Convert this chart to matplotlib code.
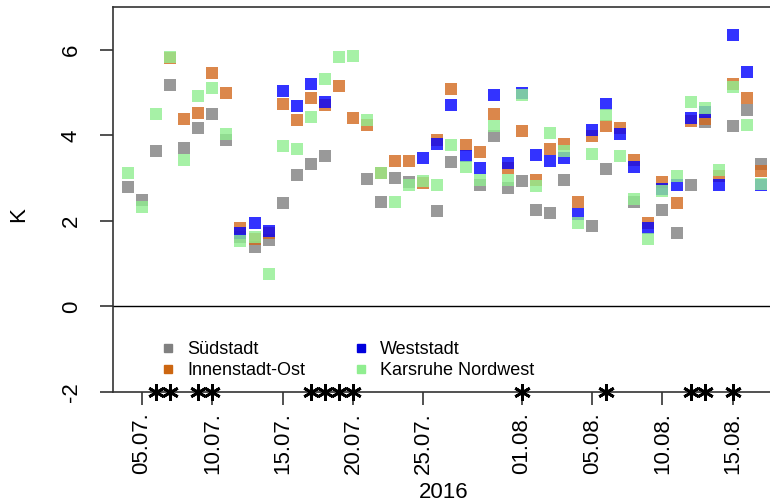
import numpy as np
import matplotlib
matplotlib.use("Agg")
import matplotlib.pyplot as plt
from matplotlib.lines import Line2D

plt.rcParams["font.family"] = ["Liberation Sans", "DejaVu Sans"]

nan = np.nan
# day index (0 = 05.07.2016 on the plotted axis)
day_index = list(range(-1, 45))

suedstadt = [2.80, 2.50, 3.63, 5.17, 3.71, 4.16, 4.51, 3.90, 1.62, 1.38,
             1.56, 2.41, 3.07, 3.32, 3.51, nan, nan, 2.97, 2.43, 3.00,
             2.91, nan, 2.23, 3.38, nan, 2.84, 3.99, 2.77, 2.93, 2.26,
             2.19, 2.95, nan, 1.89, 3.22, nan, 2.45, nan, 2.25, 1.72,
             2.84, 4.31, nan, 4.21, 4.60, 3.33]
innenstadt_ost = [nan, nan, nan, 5.80, 4.39, 4.53, 5.45, 4.98, 1.83, 1.58,
                  1.72, 4.74, 4.36, 4.87, 4.70, 5.15, 4.40, 4.24, 3.12, 3.40,
                  3.41, 2.88, 3.89, 5.09, 3.77, 3.60, 4.50, 3.24, 4.11, 2.95,
                  3.69, 3.80, 2.45, 3.99, 4.22, 4.18, 3.42, 1.94, 2.91, 2.42,
                  4.33, 4.38, 3.05, 5.20, 4.88, 3.17]
weststadt = [nan, nan, nan, nan, nan, nan, nan, nan, 1.71, 1.94,
             1.77, 5.03, 4.68, 5.20, 4.79, nan, nan, nan, nan, nan,
             nan, 3.48, 3.79, 4.72, 3.52, 3.24, 4.94, 3.36, 4.99, 3.54,
             3.41, 3.47, 2.15, 4.12, 4.74, 4.02, 3.26, 1.83, 2.75, 2.84,
             4.40, 4.55, 2.84, 6.35, 5.49, 2.84]
karlsruhe_nw = [3.12, 2.33, 4.51, 5.83, 3.42, 4.93, 5.10, 4.02, 1.54, 1.62,
                0.75, 3.75, 3.68, 4.42, 5.31, 5.82, 5.85, 4.35, 3.13, 2.45,
                2.85, 2.93, 2.85, 3.77, 3.26, 2.95, 4.21, 2.96, 4.95, 2.81,
                4.05, 3.64, 1.94, 3.57, 4.47, 3.51, 2.51, 1.57, 2.69, 3.04,
                4.77, 4.63, 3.19, 5.13, 4.25, 2.87]

series_names = ["Südstadt", "Innenstadt-Ost", "Weststadt", "Karsruhe Nordwest"]
series_values = [suedstadt, innenstadt_ost, weststadt, karlsruhe_nw]
series_colors = ["#808080", "#D2691E", "#0000FF", "#90EE90"]
legend_colors = ["#808080", "#CC6611", "#0000DD", "#90EE90"]

tick_positions = [0, 5, 10, 15, 20, 27, 32, 37, 42]
tick_labels = ["05.07.", "10.07.", "15.07.", "20.07.", "25.07.",
               "01.08.", "05.08.", "10.08.", "15.08."]

signif_days = [1, 2, 4, 5, 12, 13, 14, 15, 27, 33, 39, 40, 42]
star_level = -2

W, H = 770, 503
fig = plt.figure(figsize=(W / 100, H / 100), dpi=100)
ax = fig.add_axes([113 / W, 1 - 392 / H, (775 - 113) / W, (392 - 7) / H])

for vals, col in zip(series_values, series_colors):
    ax.scatter(day_index, vals, marker="s", s=81, color=col, alpha=0.8,
               linewidths=0, zorder=2)

ax.axhline(0, color="black", lw=1.0, zorder=1)

ax.plot(signif_days, [star_level] * len(signif_days), ls="none",
        marker=(6, 2, 0), ms=12, mew=2.0, color="black", clip_on=False,
        zorder=5)

ax.set_xlim(-2.06, 45.0)
ax.set_ylim(-2, 7.0)

for side in ["left", "bottom", "top"]:
    ax.spines[side].set_color("#333333")
    ax.spines[side].set_linewidth(1.2)
ax.spines["right"].set_visible(False)

ax.set_yticks([-2, 0, 2, 4, 6])
ax.set_yticklabels(["-2", "0", "2", "4", "6"])
ax.tick_params(axis="y", length=9.4, width=1.2, color="#333333", pad=13,
               labelsize=16, labelrotation=90)
for lab in ax.get_yticklabels():
    lab.set_va("center")

ax.set_xticks(tick_positions)
ax.set_xticklabels(tick_labels)
ax.tick_params(axis="x", length=9.4, width=1.2, color="#333333", pad=5,
               labelsize=16, labelrotation=90)

ax.set_ylabel("K", fontsize=16)
ax.yaxis.set_label_coords(-0.127, 0.46)
ax.set_xlabel("2016", fontsize=16)
ax.xaxis.set_label_coords(0.5, -0.234)
ax.xaxis.label.set_va("top")

handles = [Line2D([], [], marker="s", ls="none", color=c, ms=5.5)
           for c in legend_colors]
fig.legend(handles, series_names, ncol=2, loc="upper left",
           bbox_to_anchor=(159 / W, 1 - 341 / H), bbox_transform=fig.transFigure,
           frameon=False, fontsize=13, handlelength=1.0, handletextpad=0.55,
           columnspacing=2.6, borderpad=0, borderaxespad=0, labelspacing=0.22)

fig.savefig("out.png", dpi=100)
